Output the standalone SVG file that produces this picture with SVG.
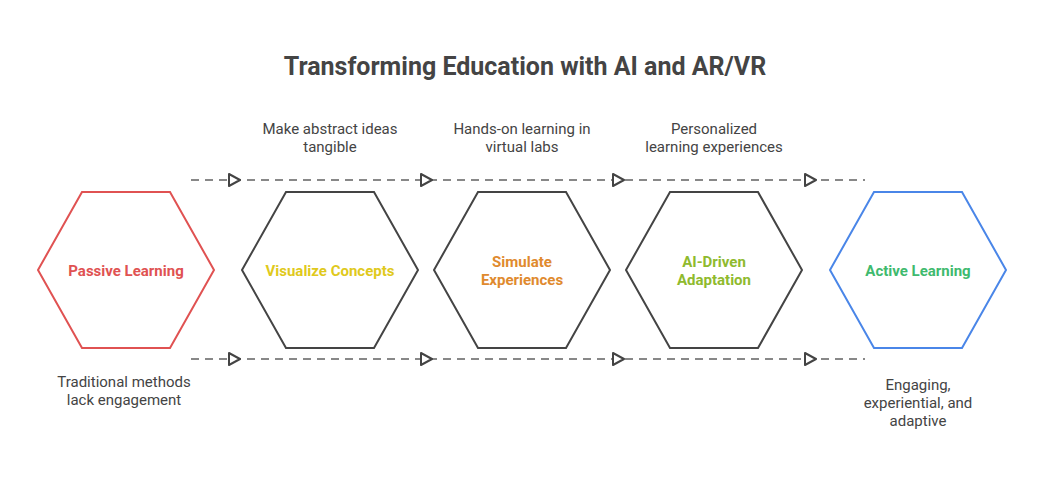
<svg xmlns="http://www.w3.org/2000/svg" width="1048" height="480" viewBox="0 0 1048 480">
<style>
text{font-family:Roboto,"Liberation Sans",sans-serif;text-anchor:middle}
.t{font-size:25px;font-weight:bold;fill:#444}
.l{font-size:15px;font-weight:bold}
.d{font-size:15px;fill:#444}
.hx{fill:#fff;stroke-width:2}
.c{stroke:#888;stroke-width:2;stroke-dasharray:8 6;fill:none}
.a{fill:#fff;stroke:#444;stroke-width:2;stroke-linejoin:round}
</style>
<rect width="1048" height="480" fill="#fff"/>
<text class="t" x="525" y="75">Transforming Education with AI and AR/VR</text>
<g id="connectors">
<path class="c" d="M191 180H865M191 359H865"/>
<path class="a" d="M229 174L240 180L229 186ZM421 174L432 180L421 186ZM613 174L624 180L613 186ZM805 174L816 180L805 186Z"/>
<path class="a" d="M229 353L240 359L229 365ZM421 353L432 359L421 365ZM613 353L624 359L613 365ZM805 353L816 359L805 365Z"/>
</g>
<g id="passive"><path class="hx" stroke="#e05252" d="M38 270L82 192H170L214 270L170 348H82Z"/><text class="l" fill="#e05252" x="126" y="276">Passive Learning</text></g>
<g id="visualize"><path class="hx" stroke="#444" d="M242 270L286 192H374L418 270L374 348H286Z"/><text class="l" fill="#e0c91c" x="330" y="276">Visualize Concepts</text></g>
<g id="simulate"><path class="hx" stroke="#444" d="M434 270L478 192H566L610 270L566 348H478Z"/><text class="l" fill="#e08a2e" x="522" y="267">Simulate</text><text class="l" fill="#e08a2e" x="522" y="285">Experiences</text></g>
<g id="ai"><path class="hx" stroke="#444" d="M626 270L670 192H758L802 270L758 348H670Z"/><text class="l" fill="#8fba2e" x="714" y="267">AI-Driven</text><text class="l" fill="#8fba2e" x="714" y="285">Adaptation</text></g>
<g id="active"><path class="hx" stroke="#4a86e8" d="M830 270L874 192H962L1006 270L962 348H874Z"/><text class="l" fill="#3fba6e" x="918" y="276">Active Learning</text></g>
<g id="labels">
<text class="d" x="330" y="134">Make abstract ideas</text><text class="d" x="330" y="152">tangible</text>
<text class="d" x="522" y="134">Hands-on learning in</text><text class="d" x="522" y="152">virtual labs</text>
<text class="d" x="714" y="134">Personalized</text><text class="d" x="714" y="152">learning experiences</text>
<text class="d" x="124" y="387">Traditional methods</text><text class="d" x="124" y="405">lack engagement</text>
<text class="d" x="918" y="390">Engaging,</text><text class="d" x="918" y="408">experiential, and</text><text class="d" x="918" y="426">adaptive</text>
</g>
</svg>
